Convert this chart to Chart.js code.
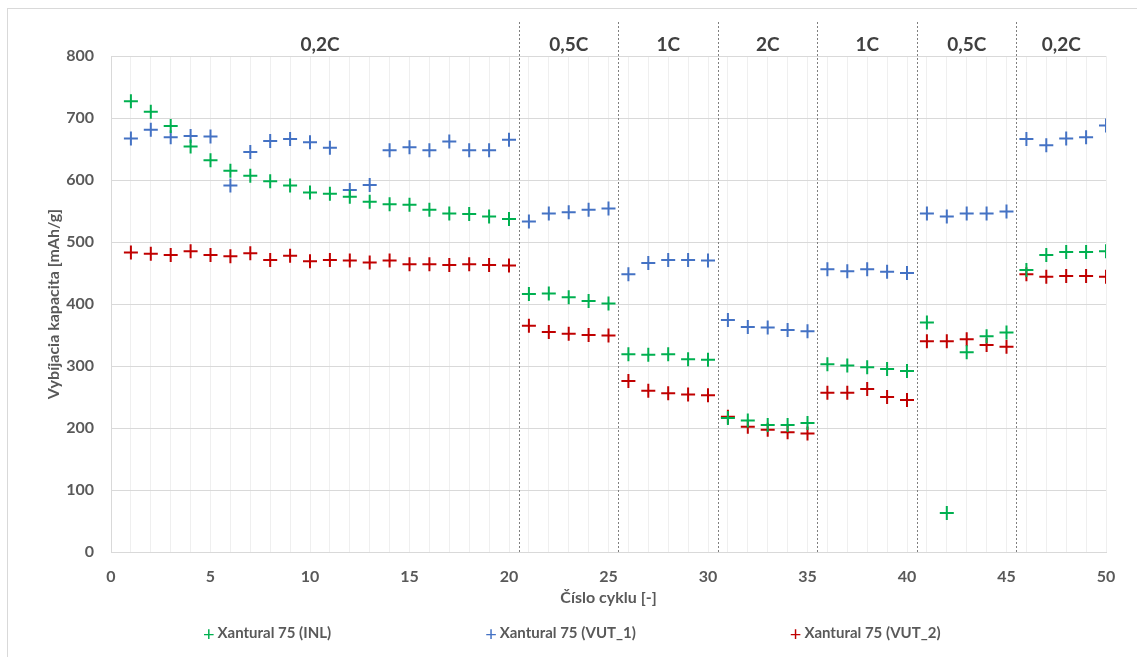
<!DOCTYPE html>
<html>
<head>
<meta charset="utf-8">
<title>Vybíjacia kapacita</title>
<script src="https://cdn.jsdelivr.net/npm/chart.js@4.4.1/dist/chart.umd.min.js"></script>
<style>
  html, body { margin: 0; padding: 0; background: #fff; }
  #wrap { position: relative; width: 1137px; height: 657px; }
  #legend {
    position: absolute; left: 203px; top: 622px;
    display: flex; gap: 154px;
    font-family: Lato, sans-serif; font-weight: bold; font-size: 15px; color: #595959;
  }
  #legend span.mark { font-weight: normal; font-size: 20px; line-height: 20px; margin-right: 3px; position: relative; top: 1px; }
  #legend div { display: flex; align-items: center; }
</style>
</head>
<body>
<div id="wrap">
  <canvas id="chart" width="1137" height="657"></canvas>
  <div id="legend"></div>
</div>
<script>
// cycle numbers
const cycles = [1,2,3,4,5,6,7,8,9,10,11,12,13,14,15,16,17,18,19,20,
  21,22,23,24,25,26,27,28,29,30,31,32,33,34,35,36,37,38,39,40,
  41,42,43,44,45,46,47,48,49,50];

// discharge capacity [mAh/g]
const inl = [727,710,687,654,632,615,607,598,591,580,578,573,565,561,560,552,546,545,541,537,
  416,417,411,405,401,319,318,319,311,310,216,212,205,205,208,303,301,298,295,292,
  370,63,322,348,354,455,479,484,484,485];
const vut1 = [667,681,669,671,670,591,645,663,666,661,652,584,592,648,653,648,662,648,648,665,
  533,546,548,552,554,448,466,471,471,470,374,363,362,358,356,456,453,456,452,450,
  546,541,546,546,549,666,656,667,669,688];
const vut2 = [483,481,479,485,479,477,482,471,478,469,471,470,467,470,464,464,463,464,463,462,
  365,355,352,350,349,276,260,256,254,253,218,202,197,193,191,257,257,263,250,245,
  340,340,343,334,331,448,444,445,445,444];

// C-rate sections
const rateLabels = ["0,2C","0,5C","1C","2C","1C","0,5C","0,2C"];
const rateBounds = [0.5,20.5,25.5,30.5,35.5,40.5,45.5,50.5];

const seriesNames = ["Xantural 75 (INL)","Xantural 75 (VUT_1)","Xantural 75 (VUT_2)"];
const colors = ["#00B050","#4472C4","#C00000"];

const textColor = "#595959";
const font = "Lato, sans-serif";

function toPoints(values) {
  return cycles.map((c, i) => ({ x: c, y: values[i] }));
}

const ratePlugin = {
  id: "rates",
  beforeDraw(chart) {
    const ctx = chart.ctx;
    ctx.save();
    ctx.strokeStyle = "#D9D9D9";
    ctx.lineWidth = 1;
    ctx.strokeRect(7.5, 8.5, chart.width + 10, chart.height + 10);
    ctx.restore();
  },
  afterDatasetsDraw(chart) {
    const ctx = chart.ctx;
    const x = chart.scales.x;
    const area = chart.chartArea;
    ctx.save();
    ctx.strokeStyle = "#7F7F7F";
    ctx.lineWidth = 1;
    ctx.setLineDash([2, 2]);
    for (let i = 1; i < rateBounds.length - 1; i++) {
      const px = Math.round(x.getPixelForValue(rateBounds[i])) + 0.5;
      ctx.beginPath();
      ctx.moveTo(px, 22);
      ctx.lineTo(px, area.bottom);
      ctx.stroke();
    }
    ctx.setLineDash([]);
    ctx.fillStyle = "#404040";
    ctx.font = "bold 19px " + font;
    ctx.textAlign = "center";
    ctx.textBaseline = "middle";
    rateLabels.forEach((label, i) => {
      const mid = (rateBounds[i] + Math.min(rateBounds[i + 1], 50)) / 2;
      ctx.fillText(label, x.getPixelForValue(mid), 45);
    });
    ctx.restore();
  }
};

const chart = new Chart(document.getElementById("chart"), {
  type: "scatter",
  data: {
    datasets: [inl, vut1, vut2].map((vals, i) => ({
      label: seriesNames[i],
      data: toPoints(vals),
      pointStyle: "cross",
      radius: 7,
      hoverRadius: 7,
      borderWidth: 2,
      borderColor: colors[i],
      backgroundColor: colors[i]
    }))
  },
  options: {
    responsive: false,
    animation: false,
    devicePixelRatio: 1,
    layout: { padding: { left: 31, right: 31, top: 56, bottom: 50 } },
    plugins: {
      legend: { display: false },
      tooltip: { enabled: false }
    },
    scales: {
      x: {
        type: "linear",
        min: 0,
        max: 50,
        afterFit: (scale) => { scale.height = 55; },
        ticks: {
          stepSize: 1,
          autoSkip: false,
          maxRotation: 0,
          padding: 15,
          color: textColor,
          font: { family: font, size: 16, weight: "bold" },
          callback: (v) => (v % 5 === 0 ? v : "")
        },
        grid: { color: "#EFEFEF", drawTicks: false },
        border: { color: "#D9D9D9" },
        title: {
          display: true,
          text: "Číslo cyklu [-]",
          color: textColor,
          font: { family: font, size: 16, weight: "bold" },
          padding: { top: 0, bottom: 0 }
        }
      },
      y: {
        min: 0,
        max: 800,
        afterFit: (scale) => { scale.width = 80; },
        ticks: {
          stepSize: 100,
          padding: 17,
          color: textColor,
          font: { family: font, size: 16, weight: "bold" }
        },
        grid: { color: "#D9D9D9", drawTicks: false },
        border: { color: "#D9D9D9" },
        title: {
          display: true,
          text: "Vybíjacia kapacita [mAh/g]",
          color: textColor,
          font: { family: font, size: 16, weight: "bold" },
          padding: { top: 13, bottom: 0 }
        }
      }
    }
  },
  plugins: [ratePlugin]
});

// legend under the chart, built from the datasets
const legend = document.getElementById("legend");
chart.data.datasets.forEach((ds) => {
  const item = document.createElement("div");
  const mark = document.createElement("span");
  mark.className = "mark";
  mark.style.color = ds.borderColor;
  mark.textContent = "+";
  item.appendChild(mark);
  item.appendChild(document.createTextNode(ds.label));
  legend.appendChild(item);
});
</script>
</body>
</html>
